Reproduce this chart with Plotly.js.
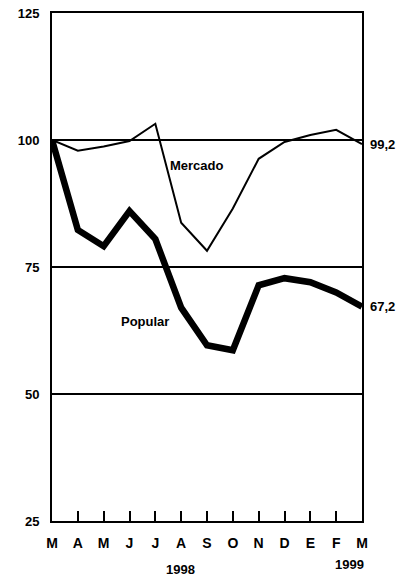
<!DOCTYPE html>
<html>
<head>
<meta charset="utf-8">
<script src="https://cdn.plot.ly/plotly-3.0.1.min.js"></script>
<style>html,body{margin:0;padding:0;background:#fff;}#chart{width:402px;height:578px;}</style>
</head>
<body>
<div id="chart"></div>
<script>
const months = ["M","A","M","J","J","A","S","O","N","D","E","F","M"];
const monthIndex = [0,1,2,3,4,5,6,7,8,9,10,11,12];
const mercado = [100, 97.9, 98.7, 99.8, 103.2, 83.7, 78.2, 86.5, 96.3, 99.6, 101, 102, 99.2];
const popular = [100, 82.3, 79.1, 86, 80.5, 67, 59.6, 58.6, 71.4, 72.8, 72, 70, 67.2];
const yTicks = [25, 50, 75, 100, 125];
const endLabels = ["99,2", "67,2"];
const seriesNames = ["Mercado", "Popular"];
const years = ["1998", "1999"];

const FONT = "'Liberation Sans Narrow', 'Liberation Sans', Arial, sans-serif";

const traces = [
  {x: monthIndex, y: mercado, mode: "lines", line: {color: "#000", width: 2}, name: seriesNames[0], hoverinfo: "skip"},
  {x: monthIndex, y: popular, mode: "lines", line: {color: "#000", width: 6.5}, name: seriesNames[1], hoverinfo: "skip"}
];

const layout = {
  width: 402, height: 578,
  margin: {l: 52, r: 40, t: 13, b: 57},
  paper_bgcolor: "#fff", plot_bgcolor: "#fff",
  showlegend: false,
  font: {family: FONT, size: 13, color: "#000", weight: "bold"},
  xaxis: {
    range: [0, 12], tickvals: monthIndex, ticktext: months,
    ticks: "inside", ticklen: 10, tickwidth: 2, tickcolor: "#000",
    showline: true, linecolor: "#000", linewidth: 2, mirror: true,
    showgrid: false, zeroline: false, ticklabelstandoff: 8,
    tickfont: {family: FONT, size: 14, color: "#000", weight: "bold"}
  },
  yaxis: {
    range: [25, 125], tickvals: yTicks, ticktext: yTicks.map(String),
    ticks: "", showline: true, linecolor: "#000", linewidth: 2, mirror: true,
    showgrid: true, gridcolor: "#000", gridwidth: 1.5, zeroline: false,
    ticklabelstandoff: 8,
    tickfont: {family: FONT, size: 13, color: "#000", weight: "bold"}
  },
  annotations: [
    {x: 12, y: mercado[12], xref: "x", yref: "y", text: endLabels[0], showarrow: false, xanchor: "left", xshift: 6, font: {family: FONT, size: 13, weight: "bold"}},
    {x: 12, y: popular[12], xref: "x", yref: "y", text: endLabels[1], showarrow: false, xanchor: "left", xshift: 6, font: {family: FONT, size: 13, weight: "bold"}},
    {x: 5.6, y: 95, xref: "x", yref: "y", text: seriesNames[0], showarrow: false, font: {family: FONT, size: 13, weight: "bold"}},
    {x: 3.6, y: 64.2, xref: "x", yref: "y", text: seriesNames[1], showarrow: false, font: {family: FONT, size: 13, weight: "bold"}},
    {x: 4.96, y: 0, xref: "x", yref: "paper", yanchor: "middle", yshift: -48, text: years[0], showarrow: false, font: {family: FONT, size: 13, weight: "bold"}},
    {x: 11.5, y: 0, xref: "x", yref: "paper", yanchor: "middle", yshift: -43, text: years[1], showarrow: false, font: {family: FONT, size: 13, weight: "bold"}}
  ]
};

Plotly.newPlot("chart", traces, layout, {displayModeBar: false, staticPlot: true});
</script>
</body>
</html>
